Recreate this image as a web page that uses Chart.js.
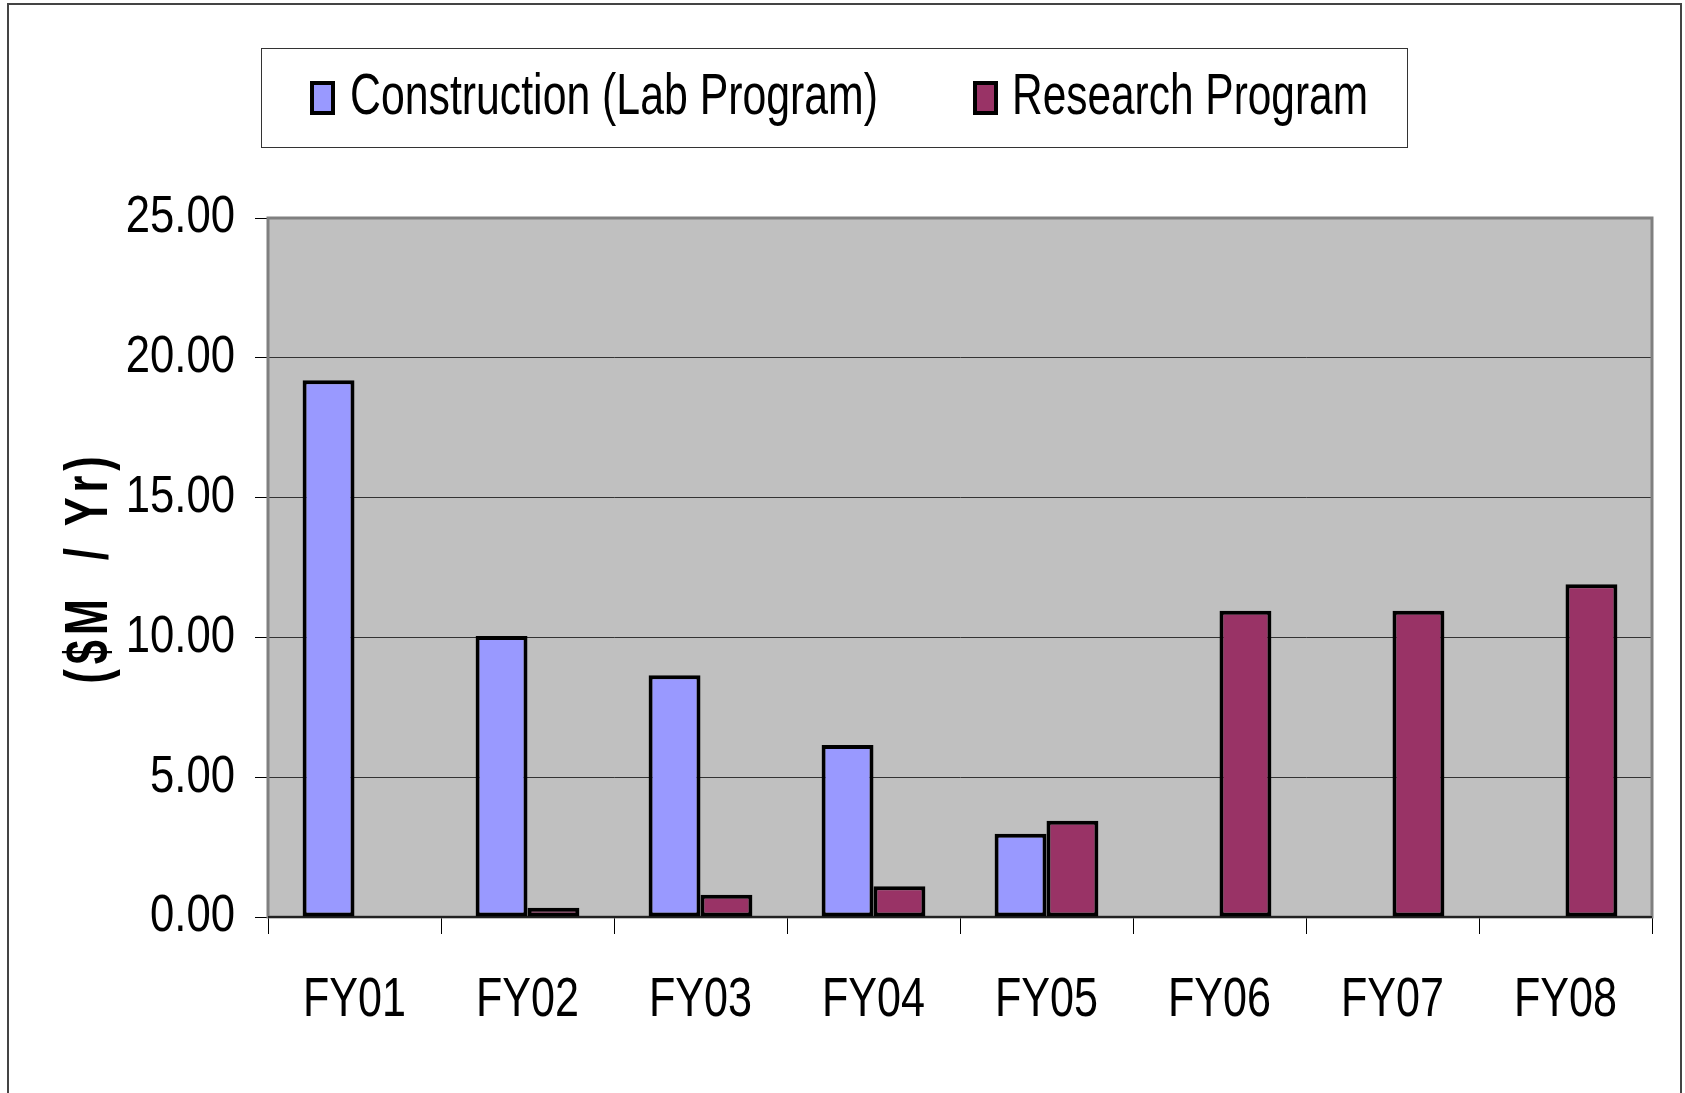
<!DOCTYPE html>
<html>
<head>
<meta charset="utf-8">
<script src="https://cdn.jsdelivr.net/npm/chart.js@4.4.1/dist/chart.umd.min.js"></script>
<style>
  html, body { margin: 0; padding: 0; background: #fff; }
  #wrap { position: relative; width: 1685px; height: 1093px; overflow: hidden; }
  #frame { position: absolute; left: 7px; top: 3px; width: 1675px; height: 1200px; border: 2px solid #444; box-sizing: border-box; }
  #legend { position: absolute; left: 261px; top: 48px; width: 1147px; height: 100px; border: 1px solid #333; box-sizing: border-box; background: #fff;
            font-family: 'Liberation Sans', Arial, sans-serif; font-size: 57px; line-height: 57px; color: #000; }
  .swatch { position: absolute; top: 32px; width: 25px; height: 34px; border: 4px solid #000; box-sizing: border-box; }
  .txt { position: absolute; top: 17px; white-space: nowrap; transform-origin: 0 0; }
</style>
</head>
<body>
<div id="wrap">
  <div id="frame"></div>
  <canvas id="myChart"></canvas>
  <div id="legend">
    <div class="swatch" style="left: 48px; background:#9999FF"></div>
    <span class="txt" style="left: 88px;" data-w="528">Construction (Lab Program)</span>
    <div class="swatch" style="left: 711px; background:#993366"></div>
    <span class="txt" style="left: 750px;" data-w="356">Research Program</span>
  </div>
</div>
<script>
  const categories = ['FY01', 'FY02', 'FY03', 'FY04', 'FY05', 'FY06', 'FY07', 'FY08'];
  const construction = [19.2, 10.05, 8.65, 6.15, 2.98, null, null, null];
  const research = [null, 0.33, 0.8, 1.1, 3.44, 10.95, 10.95, 11.9];
  const yTicks = [0, 5, 10, 15, 20, 25];

  const sans = "'Liberation Sans', Arial, sans-serif";

  // the original uses a narrow face; squeeze the text horizontally
  document.querySelectorAll('.txt').forEach(function(el) {
    const w = el.getBoundingClientRect().width;
    el.style.transform = 'scaleX(' + (Number(el.dataset.w) / w) + ')';
  });

  /* narrow text on the canvas: scale each label around its anchor */
  const narrowText = {
    id: 'narrowText',
    beforeInit(chart) {
      const ctx = chart.ctx;
      const orig = ctx.fillText.bind(ctx);
      ctx.fillText = function(text, x, y) {
        const f = ctx.font;
        let sx = 1, ls = '0px';
        if (f.indexOf('bold') >= 0) { sx = 0.7; ls = '7px'; }
        else if (f.indexOf('56px') >= 0) { sx = 0.77; }
        else if (f.indexOf('52px') >= 0) { sx = 0.84; }
        ctx.save();
        ctx.translate(x, y);
        ctx.scale(sx, 1);
        ctx.letterSpacing = ls;
        orig(text, 0, 0);
        ctx.restore();
      };
    }
  };

  /* grey plot area like the old Excel charts */
  const plotArea = {
    id: 'plotArea',
    beforeDraw(chart) {
      const { ctx, chartArea: a } = chart;
      ctx.save();
      ctx.fillStyle = '#C0C0C0';
      ctx.fillRect(a.left, a.top, a.right - a.left, a.bottom - a.top);
      ctx.restore();
    },
    beforeDatasetsDraw(chart) {
      const { ctx, chartArea: a } = chart;
      ctx.save();
      ctx.strokeStyle = '#808080';
      ctx.lineWidth = 3;
      ctx.strokeRect(a.left, a.top, a.right - a.left, a.bottom - a.top);
      ctx.strokeStyle = '#222';
      ctx.lineWidth = 2;
      ctx.beginPath();
      ctx.moveTo(a.left, a.bottom);
      ctx.lineTo(a.right, a.bottom);
      ctx.stroke();
      ctx.restore();
    }
  };

  const ctx = document.getElementById('myChart');
  new Chart(ctx, {
    type: 'bar',
    data: {
      labels: categories,
      datasets: [{
        label: 'Construction (Lab Program)',
        data: construction,
        backgroundColor: '#9999FF',
        borderColor: '#000',
        borderWidth: 4,
        borderSkipped: false,
        barPercentage: 1,
        categoryPercentage: 0.6
      }, {
        label: 'Research Program',
        data: research,
        backgroundColor: '#993366',
        borderColor: '#000',
        borderWidth: 4,
        borderSkipped: false,
        barPercentage: 1,
        categoryPercentage: 0.6
      }]
    },
    options: {
      responsive: true,
      maintainAspectRatio: false,
      animation: false,
      layout: { padding: { top: 218, right: 33, left: 0, bottom: 0 } },
      plugins: {
        legend: { display: false },
        tooltip: { enabled: false }
      },
      scales: {
        x: {
          grid: { offset: true, drawOnChartArea: false, drawTicks: true, tickLength: 17, color: '#000', lineWidth: 1 },
          border: { color: '#000', width: 2 },
          ticks: { color: '#000', padding: 33, font: { family: sans, size: 56 } },
          afterFit(scale) { scale.height = 176; }
        },
        y: {
          min: 0,
          max: 25,
          afterBuildTicks(scale) { scale.ticks = yTicks.map(v => ({ value: v })); },
          grid: { color: '#333', lineWidth: 1, tickLength: 13, tickColor: '#000' },
          border: { color: '#808080', width: 2 },
          ticks: {
            color: '#000',
            padding: 20,
            font: { family: sans, size: 52 },
            callback: v => Number(v).toFixed(2)
          },
          title: {
            display: true,
            text: '($M  / Yr)',
            color: '#000',
            padding: { top: 53, bottom: 0 },
            font: { family: sans, size: 62, weight: 'bold' }
          },
          afterFit(scale) { scale.width = 268; }
        }
      }
    },
    plugins: [narrowText, plotArea]
  });
</script>
</body>
</html>
